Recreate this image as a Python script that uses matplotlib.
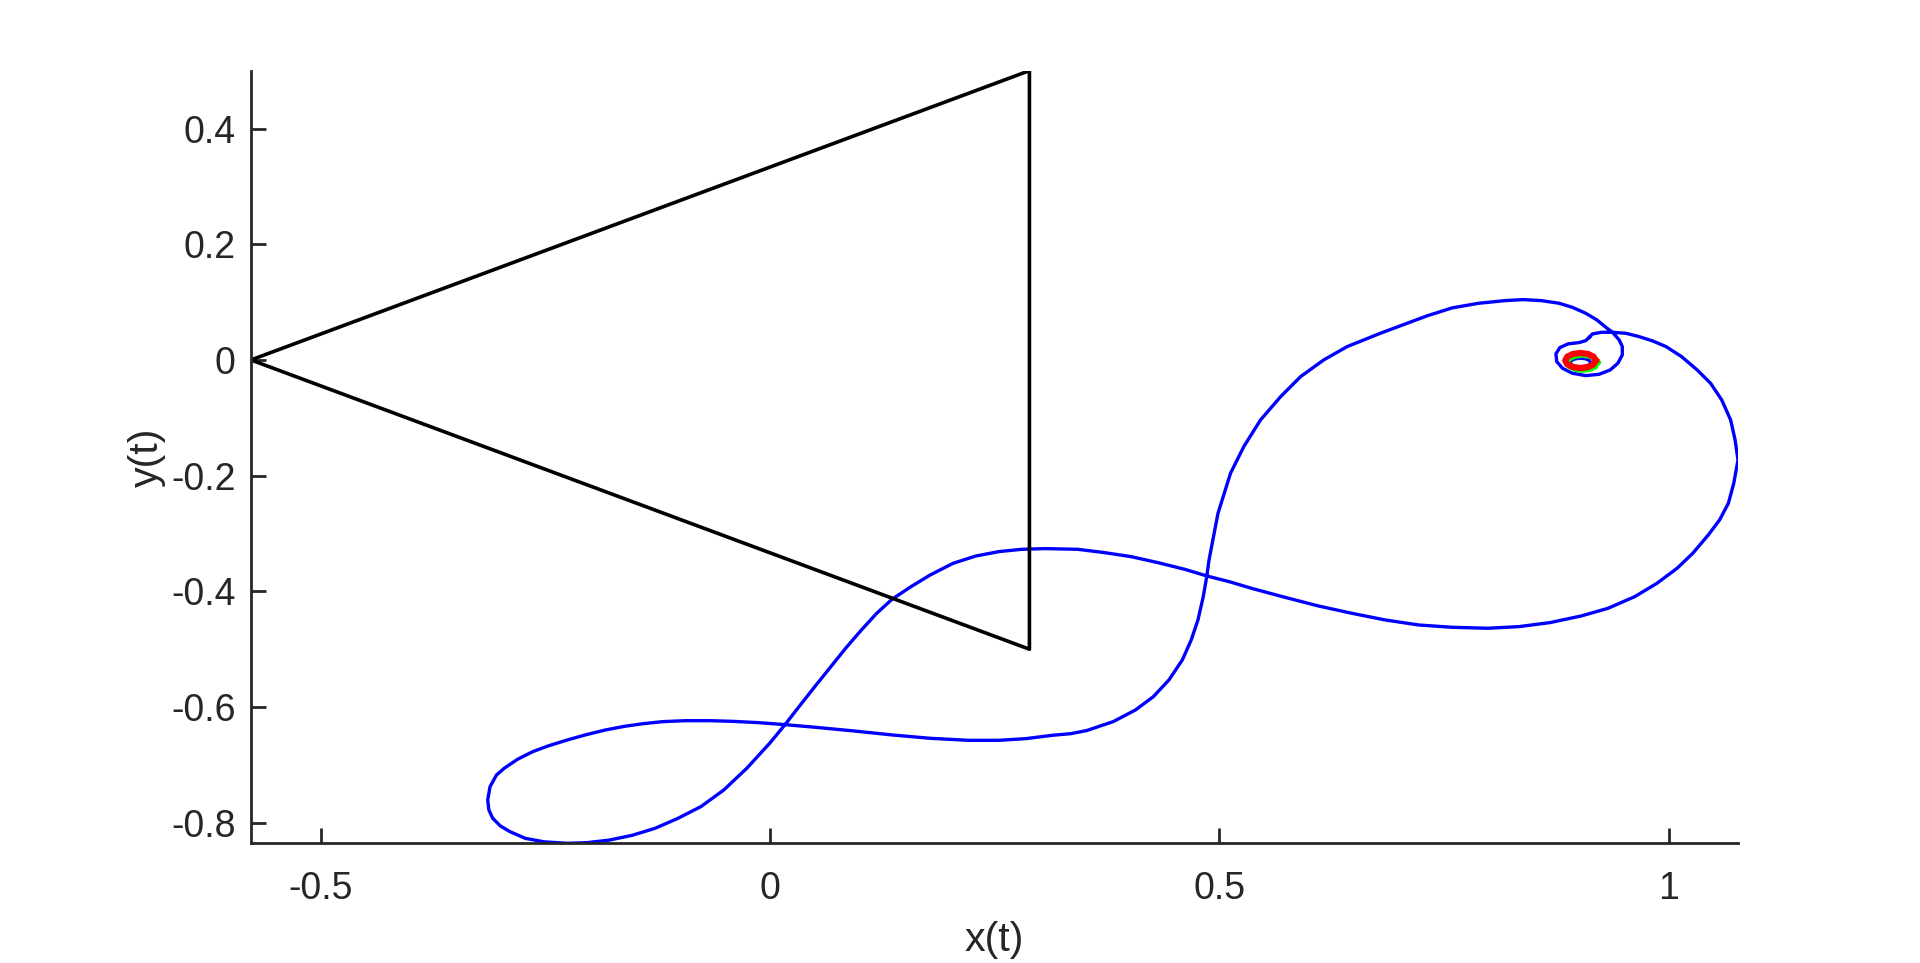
import matplotlib
matplotlib.use("Agg")
import matplotlib.pyplot as plt

plt.rcParams["font.family"] = ["Liberation Sans", "DejaVu Sans"]
plt.rcParams["axes.unicode_minus"] = False

# ------------------------
# Data
# ------------------------

# triangle corners
tri_x = [-0.5774, 0.2887, 0.2887, -0.5774]
tri_y = [0.0, 0.5, -0.5, 0.0]

# trajectory x(t), y(t)
path_x = [0.9116, 0.9076, 0.9002, 0.8878, 0.8788, 0.8744, 0.8754, 0.8818,
          0.8927, 0.9076, 0.9224, 0.9349, 0.9433, 0.9483, 0.9483, 0.9448,
          0.9374, 0.9299, 0.9200, 0.9076, 0.8927, 0.8779, 0.8580, 0.8382,
          0.8183, 0.7886, 0.7588, 0.7309, 0.6791, 0.6421, 0.6161,
          0.5904, 0.5682, 0.5458, 0.5272, 0.5124, 0.5032, 0.4985,
          0.4935, 0.4885, 0.4861, 0.4821, 0.4762, 0.4687, 0.4588, 0.4439,
          0.4266, 0.4067, 0.3819, 0.3522, 0.3347, 0.3143, 0.2846, 0.2548,
          0.2208, 0.1783, 0.1358, 0.0933, 0.0508, 0.0168, -0.0130, -0.0428,
          -0.0683, -0.0938, -0.1193, -0.1405, -0.1618, -0.1830, -0.2043,
          -0.2255, -0.2468, -0.2638, -0.2808, -0.2957, -0.3042, -0.3114,
          -0.3140, -0.3127, -0.3084, -0.2999, -0.2893, -0.2723, -0.2510,
          -0.2255, -0.2043, -0.1788, -0.1533, -0.1278, -0.1023, -0.0768,
          -0.0513, -0.0258, -0.0003, 0.0168, 0.0338, 0.0508, 0.0678, 0.0848,
          0.1018, 0.1188, 0.1358, 0.1570, 0.1783, 0.2038, 0.2293, 0.2548,
          0.2803, 0.3058, 0.3423, 0.3720, 0.4018, 0.4315, 0.4613, 0.4861,
          0.5109, 0.5357, 0.5729, 0.6101, 0.6473, 0.6844, 0.7216, 0.7588,
          0.7985, 0.8332, 0.8679, 0.9027, 0.9324, 0.9622, 0.9869, 1.0093,
          1.0267, 1.0440, 1.0565, 1.0663, 1.0723, 1.0770, 1.0738, 1.0688,
          1.0589, 1.0465, 1.0316, 1.0142, 0.9969, 0.9820, 0.9670, 0.9522,
          0.9374, 0.9250, 0.9150, 0.9116]
path_y = [0.0392, 0.0334, 0.0300, 0.0277, 0.0213, 0.0104, -0.0029, -0.0144,
          -0.0230, -0.0271, -0.0248, -0.0173, -0.0058, 0.0086, 0.0231, 0.0346,
          0.0478, 0.0565, 0.0692, 0.0807, 0.0910, 0.0980, 0.1026, 0.1043,
          0.1026, 0.0980, 0.0899, 0.0761, 0.0461, 0.0230, 0.0000,
          -0.0288, -0.0634, -0.1037, -0.1498, -0.1959, -0.2420, -0.2650,
          -0.3054, -0.3457, -0.3734, -0.4091, -0.4494, -0.4840, -0.5186, -0.5531,
          -0.5820, -0.6050, -0.6252, -0.6407, -0.6460, -0.6488, -0.6546, -0.6575,
          -0.6575, -0.6540, -0.6482, -0.6413, -0.6350, -0.6304, -0.6269, -0.6246,
          -0.6235, -0.6235, -0.6252, -0.6286, -0.6333, -0.6396, -0.6477,
          -0.6569, -0.6672, -0.6770, -0.6903, -0.7059, -0.7174, -0.7376,
          -0.7606, -0.7779, -0.7923, -0.8055, -0.8153, -0.8269, -0.8330,
          -0.8355, -0.8345, -0.8300, -0.8217, -0.8096, -0.7923, -0.7721,
          -0.7433, -0.7059, -0.6626, -0.6304, -0.5964, -0.5630, -0.5301, -0.4973,
          -0.4667, -0.4379, -0.4137, -0.3918, -0.3717, -0.3515, -0.3388, -0.3313,
          -0.3273, -0.3261, -0.3273, -0.3330, -0.3400, -0.3503, -0.3618, -0.3734,
          -0.3832, -0.3947, -0.4103, -0.4252, -0.4379, -0.4494, -0.4581, -0.4621,
          -0.4638, -0.4610, -0.4540, -0.4425, -0.4293, -0.4091, -0.3860, -0.3601,
          -0.3342, -0.3025, -0.2766, -0.2478, -0.2132, -0.1729, -0.1383, -0.1037,
          -0.0691, -0.0403, -0.0173, 0.0058, 0.0231, 0.0329, 0.0403, 0.0461,
          0.0478, 0.0478, 0.0449, 0.0392]

# last small loop of the trajectory
inner_x = [0.9132, 0.9117, 0.9075, 0.9017, 0.8960, 0.8917, 0.8902, 0.8917,
           0.8960, 0.9017, 0.9075, 0.9117, 0.9132]
inner_y = [-0.0045, -0.0008, 0.0020, 0.0030, 0.0020, -0.0008, -0.0045, -0.0083,
           -0.0110, -0.0120, -0.0110, -0.0083, -0.0045]

# green cycle
green_x = [0.9208, 0.9185, 0.9124, 0.9039, 0.8955, 0.8893, 0.8870, 0.8893,
           0.8955, 0.9039, 0.9124, 0.9185, 0.9208]
green_y = [-0.0045, 0.0021, 0.0068, 0.0086, 0.0068, 0.0021, -0.0045, -0.0111,
           -0.0158, -0.0176, -0.0158, -0.0111, -0.0045]

# red cycle
red_x = [0.9186, 0.9163, 0.9102, 0.9017, 0.8933, 0.8871, 0.8848, 0.8871,
         0.8933, 0.9017, 0.9102, 0.9163, 0.9186]
red_y = [-0.0010, 0.0056, 0.0103, 0.0121, 0.0103, 0.0056, -0.0010, -0.0076,
         -0.0123, -0.0141, -0.0123, -0.0076, -0.0010]

x_ticks = [-0.5, 0, 0.5, 1]
x_tick_labels = ["-0.5", "0", "0.5", "1"]
y_ticks = [-0.8, -0.6, -0.4, -0.2, 0, 0.2, 0.4]
y_tick_labels = ["-0.8", "-0.6", "-0.4", "-0.2", "0", "0.2", "0.4"]

# ------------------------
# Chart
# ------------------------

fig = plt.figure(figsize=(19.2, 9.63), dpi=100)
ax = fig.add_axes([0.1307, 0.1243, 0.7745, 0.8023])

ax.plot(path_x, path_y, color="#0000ff", linewidth=2.4, solid_joinstyle="round")
ax.plot(inner_x, inner_y, color="#0000ff", linewidth=2.4)
ax.plot(green_x, green_y, color="#00ff00", linewidth=4.0)
ax.plot(red_x, red_y, color="#ff0000", linewidth=4.5)
ax.plot(tri_x, tri_y, color="black", linewidth=2.6)

ax.set_xlim(-0.5774, 1.077)
ax.set_ylim(-0.8355, 0.5)

ax.spines["top"].set_visible(False)
ax.spines["right"].set_visible(False)
for side in ["left", "bottom"]:
    ax.spines[side].set_linewidth(2.0)
    ax.spines[side].set_color("#262626")

ax.set_xticks(x_ticks)
ax.set_xticklabels(x_tick_labels)
ax.set_yticks(y_ticks)
ax.set_yticklabels(y_tick_labels)
ax.tick_params(direction="in", length=11, width=2.0, color="#262626",
               labelcolor="#262626", labelsize=27)
ax.tick_params(axis="x", pad=20)
ax.tick_params(axis="y", pad=11)

ax.set_xlabel("x(t)", fontsize=29.7, color="#262626")
ax.set_ylabel("y(t)", fontsize=29.7, color="#262626")
ax.xaxis.set_label_coords(0.5, -0.10)
ax.yaxis.set_label_coords(-0.057, 0.5)

plt.savefig("out.png", dpi=100)
plt.close()
